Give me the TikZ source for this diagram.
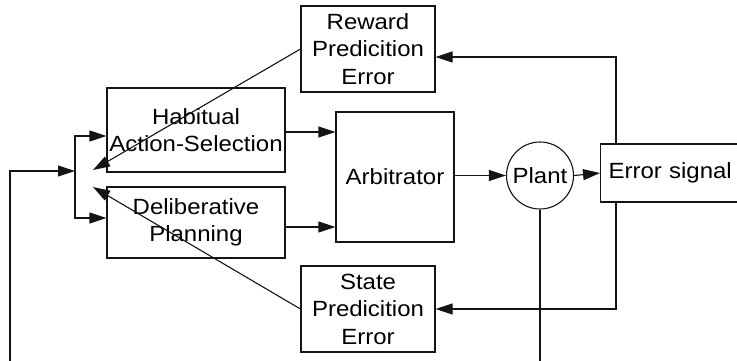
\documentclass[tikz,border=0pt]{standalone}
\usepackage{fontspec}
\setmainfont[FakeStretch=1.09]{Liberation Sans}
\usetikzlibrary{arrows.meta}
\definecolor{linecolor}{RGB}{20,20,20}

\begin{document}
\begin{tikzpicture}[x=1pt, y=-1pt, line width=1.1pt, draw=linecolor,
      >={Triangle[length=17pt,width=11pt]},
      font=\fontsize{22}{27.5}\selectfont,
      block/.style={draw, rectangle, align=center, inner sep=0pt}]
      \useasboundingbox (0,0) rectangle (737,360);
      \clip (0,0) rectangle (737,360);

      % the two controllers and the arbiter
      \node[block, minimum width=134, minimum height=86] (rpe) at (368,49) {Reward\\Predicition\\Error};
      \node[block, minimum width=178, minimum height=84] (hab) at (196,130) {Habitual\\Action-Selection};
      \node[block, minimum width=178, minimum height=71] (delib) at (196,222.5) {Deliberative\\Planning};
      \node[block, minimum width=118, minimum height=130] (arb) at (395,177) {Arbitrator};
      \node[draw, circle, minimum size=67, inner sep=0pt] (plant) at (540,175.5) {Plant};
      \node[block, anchor=west, minimum height=58, text width=140, inner xsep=8pt, align=left] (err) at (600,173) {Error signal};
      \node[block, minimum width=134, minimum height=86] (spe) at (368,309) {State\\Predicition\\Error};

      \coordinate (fork) at (75,171);
      \coordinate (loop) at (10,361.3);
      \coordinate (tipa) at (93,170);
      \coordinate (tipb) at (93,187);

      % forward path
      \draw[->] (hab.east |- 0,132) -- (arb.west |- 0,132);
      \draw[->] (delib.east |- 0,227) -- (arb.west |- 0,227);
      \draw[->] (arb.east |- plant) -- (plant.west);
      \draw[->] (plant.east) -- (err.west);

      % error signal fed back to both prediction errors
      \draw[->] ([xshift=16pt]err.north west) |- ([yshift=-8pt]rpe.east);
      \draw[->] ([xshift=16pt]err.south west) |- (spe.east);
      \draw[->] (rpe.west) -- (tipa);
      \draw[->] (spe.west) -- (tipb);

      % plant output back into the controllers
      \draw[->] (plant.south) |- (loop) |- (fork);
      \draw[<->] ([yshift=-6pt]hab.west) -| (fork) |- ([yshift=4.5pt]delib.west);
\end{tikzpicture}
\end{document}
